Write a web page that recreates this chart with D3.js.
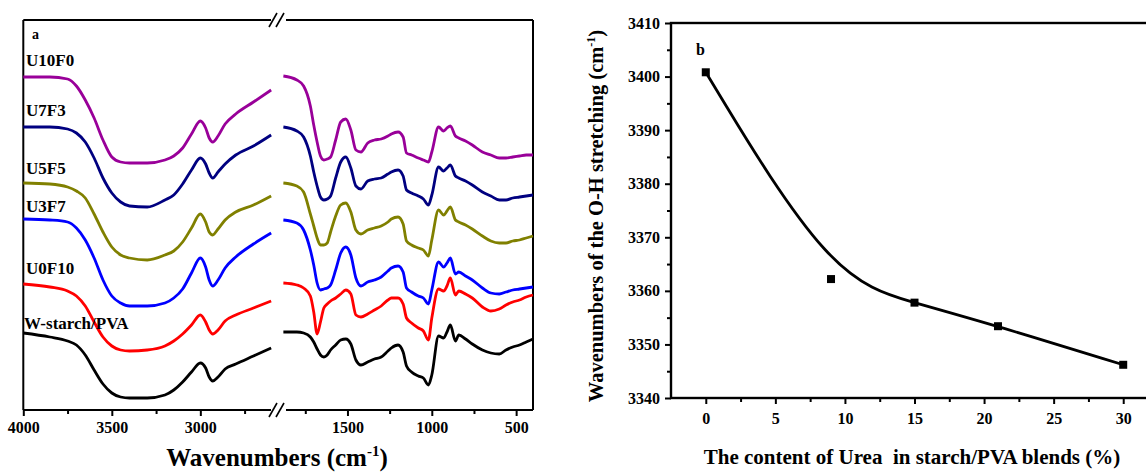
<!DOCTYPE html>
<html>
<head>
<meta charset="utf-8">
<script src="https://cdn.jsdelivr.net/npm/d3@7"></script>
<style>
  body { margin: 0; background: #fff; }
  svg { display: block; }
  text { font-family: "Liberation Serif", "Times New Roman", serif; font-weight: bold; fill: #000; }
</style>
</head>
<body>
<svg id="chart" width="1146" height="472"></svg>
<script>
// ---------- Panel a: FTIR spectra (offset transmittance, a.u.) ----------
const wnHigh = [4000, 3850, 3750, 3700, 3650, 3600, 3550, 3500, 3450, 3400, 3300, 3200,
                3150, 3100, 3050, 3000, 2970, 2950, 2930, 2900, 2860, 2800, 2700, 2600];
const wnLow = [1880, 1800, 1760, 1720, 1700, 1680, 1660, 1640, 1620, 1600, 1570, 1540,
               1510, 1480, 1450, 1420, 1380, 1340, 1300, 1260, 1240, 1200, 1170, 1150,
               1120, 1080, 1050, 1020, 1000, 960, 930, 910, 890, 860, 840, 800, 760,
               700, 650, 600, 560, 520, 480, 440, 400];

const sampleNames = ["U10F0", "U7F3", "U5F5", "U3F7", "U0F10", "W-starch/PVA"];

const u10f0High = [333, 333, 331, 324, 310, 292, 270, 253, 248, 247, 247, 250, 254, 262, 276, 289, 282, 272, 268, 274, 286, 296, 308, 320];
const u10f0Low  = [334, 330, 324, 304, 285, 268, 254, 250, 251, 253, 270, 288, 291, 280, 260, 258, 267, 270, 271, 274, 276, 278, 273, 257, 255, 252, 250, 248, 258, 283, 279, 282, 284, 274, 272, 269, 265, 258, 255, 252, 252, 253, 254, 255, 255];

const u7f3High = [283, 283, 281, 277, 268, 252, 232, 217, 208, 204, 203, 210, 215, 226, 240, 252, 246, 237, 232, 238, 246, 255, 264, 275];
const u7f3Low  = [283, 279, 273, 254, 238, 224, 213, 210, 211, 214, 232, 248, 253, 242, 224, 221, 229, 231, 232, 236, 238, 240, 234, 220, 217, 214, 211, 205, 215, 243, 239, 242, 245, 234, 232, 229, 225, 218, 214, 210, 210, 212, 213, 214, 215];

const u5f5High = [227, 226, 223, 219, 212, 196, 178, 163, 155, 152, 150, 155, 159, 168, 182, 196, 188, 178, 175, 181, 190, 198, 205, 214];
const u5f5Low  = [227, 224, 218, 196, 184, 172, 165, 165, 167, 178, 194, 205, 207, 198, 180, 176, 180, 182, 184, 188, 191, 193, 186, 169, 165, 162, 160, 154, 170, 200, 195, 199, 203, 190, 188, 185, 181, 174, 169, 167, 167, 169, 170, 172, 174];

const u3f7High = [191, 190, 188, 182, 170, 152, 130, 114, 107, 104, 104, 107, 112, 121, 137, 152, 143, 130, 124, 130, 142, 153, 166, 177];
const u3f7Low  = [190, 187, 180, 160, 145, 127, 120, 121, 122, 125, 140, 157, 163, 155, 132, 124, 128, 130, 133, 139, 142, 144, 138, 122, 118, 114, 112, 106, 120, 148, 143, 147, 152, 136, 138, 134, 130, 122, 117, 116, 118, 120, 121, 122, 123];

const u0f10High = [126, 123, 119, 114, 104, 88, 73, 64, 60, 59, 60, 64, 69, 76, 85, 95, 88, 80, 76, 80, 89, 95, 102, 109];
const u0f10Low  = [127, 125, 122, 114, 98, 76, 88, 102, 106, 109, 112, 116, 120, 116, 95, 93, 96, 100, 104, 110, 112, 112, 106, 92, 87, 82, 79, 70, 92, 121, 119, 124, 132, 115, 119, 116, 112, 103, 99, 101, 105, 108, 110, 113, 115];

const wStarchHigh = [77, 73, 69, 65, 55, 40, 26, 17, 13, 12, 12, 15, 20, 28, 38, 47, 42, 33, 29, 33, 41, 46, 54, 62];
const wStarchLow  = [78, 78, 77, 73, 68, 61, 55, 53, 55, 60, 65, 70, 71, 66, 50, 45, 48, 51, 53, 59, 62, 65, 58, 44, 38, 34, 32, 25, 35, 74, 72, 78, 85, 69, 75, 71, 66, 60, 57, 56, 60, 63, 65, 68, 71];

const majorTicksHigh = [4000, 3500, 3000];
const minorTicksHigh = [3750, 3250, 2750];
const majorTicksLow = [1500, 1000, 500];
const minorTicksLow = [1750, 1250, 750];

// ---------- Panel b: O-H stretching vs urea content ----------
const ureaContent = [0, 9, 15, 21, 30];
const ohStretching = [3400.8, 3362.2, 3357.8, 3353.4, 3346.2];
const majorTicksUrea = [0, 5, 10, 15, 20, 25, 30];
const minorTicksUrea = [2.5, 7.5, 12.5, 17.5, 22.5, 27.5];
const majorTicksOH = [3340, 3350, 3360, 3370, 3380, 3390, 3400, 3410];
const minorTicksOH = [3345, 3355, 3365, 3375, 3385, 3395, 3405];

// ---------- drawing ----------
const svg = d3.select("#chart");
const spectra = [
  { name: sampleNames[0], high: u10f0High, low: u10f0Low },
  { name: sampleNames[1], high: u7f3High, low: u7f3Low },
  { name: sampleNames[2], high: u5f5High, low: u5f5Low },
  { name: sampleNames[3], high: u3f7High, low: u3f7Low },
  { name: sampleNames[4], high: u0f10High, low: u0f10Low },
  { name: sampleNames[5], high: wStarchHigh, low: wStarchLow }
];
const lineColors = ["#990099", "#000080", "#808000", "#0000ff", "#ff0000", "#000000"];
const labelLift = [11, 11, 9, 7, 10, 4];

const A = { left: 23.3, top: 20, right: 533, bottom: 410, split: 280 };
const xHigh = d3.scaleLinear().domain([4000, 2550]).range([A.left, A.split]);
const xLow = d3.scaleLinear().domain([1900, 400]).range([A.split, A.right]);
const yA = d3.scaleLinear().domain([0, 390]).range([A.bottom, A.top]);

const gA = svg.append("g");

// frame with axis breaks
const frame = gA.append("g").attr("stroke", "#000").attr("stroke-width", 2).attr("fill", "none");
frame.append("line").attr("x1", A.left).attr("x2", A.left).attr("y1", A.top).attr("y2", A.bottom);
frame.append("line").attr("x1", A.right).attr("x2", A.right).attr("y1", A.top).attr("y2", A.bottom);
[A.top, A.bottom].forEach(yy => {
  frame.append("line").attr("x1", A.left).attr("x2", 271).attr("y1", yy).attr("y2", yy);
  frame.append("line").attr("x1", 286).attr("x2", A.right).attr("y1", yy).attr("y2", yy);
  [273, 280].forEach(cx => {
    frame.append("line").attr("x1", cx - 4).attr("y1", yy + 7).attr("x2", cx + 4).attr("y2", yy - 7)
      .attr("stroke-width", 1.6);
  });
});

// bottom axes of the two segments
function segmentAxis(scale, major, minor) {
  const g = gA.append("g").attr("transform", `translate(0,${A.bottom})`);
  g.call(d3.axisBottom(scale).tickValues(major).tickSize(6).tickPadding(6).tickFormat(d3.format("d")));
  g.call(s => s.select(".domain").remove());
  g.selectAll(".tick line").attr("stroke", "#000").attr("stroke-width", 2);
  g.selectAll(".tick text").attr("font-size", 16).attr("font-family", null);
  const gm = gA.append("g").attr("transform", `translate(0,${A.bottom})`);
  gm.call(d3.axisBottom(scale).tickValues(minor).tickSize(4).tickFormat(""));
  gm.call(s => s.select(".domain").remove());
  gm.selectAll(".tick line").attr("stroke", "#000").attr("stroke-width", 2);
}
segmentAxis(xHigh, majorTicksHigh, minorTicksHigh);
segmentAxis(xLow, majorTicksLow, minorTicksLow);

// spectra
const lineHigh = d3.line().x((d, i) => xHigh(wnHigh[i])).y(d => yA(d)).curve(d3.curveMonotoneX);
const lineLow = d3.line().x((d, i) => xLow(wnLow[i])).y(d => yA(d)).curve(d3.curveMonotoneX);
spectra.forEach((s, k) => {
  gA.append("path").attr("d", lineHigh(s.high)).attr("fill", "none")
    .attr("stroke", lineColors[k]).attr("stroke-width", 2.8).attr("stroke-linejoin", "round");
  gA.append("path").attr("d", lineLow(s.low)).attr("fill", "none")
    .attr("stroke", lineColors[k]).attr("stroke-width", 2.8).attr("stroke-linejoin", "round");
  gA.append("text").attr("x", k === 5 ? 24 : 26).attr("y", yA(s.high[0]) - labelLift[k])
    .attr("font-size", 17).text(s.name);
});

gA.append("text").attr("x", 32).attr("y", 39).attr("font-size", 14).text("a");

const titleA = gA.append("text").attr("x", 277).attr("y", 466).attr("text-anchor", "middle").attr("font-size", 25);
titleA.append("tspan").text("Wavenumbers (cm");
titleA.append("tspan").attr("dy", -10).attr("font-size", 15).text("-1");
titleA.append("tspan").attr("dy", 10).text(")");

// ---------- Panel b ----------
const B = { left: 671, top: 23, bottom: 398 };
const xB = d3.scaleLinear().domain([-2.5, 32.5]).range([B.left, 1158]);
const yB = d3.scaleLinear().domain([3340, 3410]).range([B.bottom, B.top]);
const gB = svg.append("g");

gB.append("rect").attr("x", B.left).attr("y", B.top).attr("width", xB(32.5) - B.left).attr("height", B.bottom - B.top)
  .attr("fill", "none").attr("stroke", "#000").attr("stroke-width", 2.4);

function axisB(axisFn, scale, major, minor, translate) {
  const g = gB.append("g").attr("transform", translate);
  g.call(axisFn(scale).tickValues(major).tickSize(6).tickPadding(5).tickFormat(d3.format("d")));
  g.call(s => s.select(".domain").remove());
  g.selectAll(".tick line").attr("stroke", "#000").attr("stroke-width", 2);
  g.selectAll(".tick text").attr("font-size", 16).attr("font-family", null);
  const gm = gB.append("g").attr("transform", translate);
  gm.call(axisFn(scale).tickValues(minor).tickSize(4).tickFormat(""));
  gm.call(s => s.select(".domain").remove());
  gm.selectAll(".tick line").attr("stroke", "#000").attr("stroke-width", 2);
  return g;
}
const ax = axisB(d3.axisBottom, xB, majorTicksUrea, minorTicksUrea, `translate(0,${B.bottom})`);
ax.selectAll(".tick text").attr("dy", "0.95em");
axisB(d3.axisLeft, yB, majorTicksOH, minorTicksOH, `translate(${B.left},0)`);

const pts = ureaContent.map((u, i) => [xB(u), yB(ohStretching[i])]);
gB.append("path").attr("d", d3.line().curve(d3.curveBasis)(pts)).attr("fill", "none")
  .attr("stroke", "#000").attr("stroke-width", 2.8);
gB.selectAll("rect.pt").data(ureaContent).join("rect").attr("class", "pt")
  .attr("x", (d, i) => xB(d) - 4).attr("y", (d, i) => yB(ohStretching[i]) - 4)
  .attr("width", 8).attr("height", 8).attr("fill", "#000");

gB.append("text").attr("x", 696).attr("y", 55).attr("font-size", 16).text("b");

gB.append("text").attr("x", 912).attr("y", 464).attr("text-anchor", "middle").attr("font-size", 21)
  .style("white-space", "pre").text("The content of Urea  in starch/PVA blends (%)");

const titleB = gB.append("text").attr("transform", "translate(603,216) rotate(-90)")
  .attr("text-anchor", "middle").attr("font-size", 20.5);
titleB.append("tspan").text("Wavenumbers of the O-H stretching (cm");
titleB.append("tspan").attr("dy", -8).attr("font-size", 12).text("-1");
titleB.append("tspan").attr("dy", 8).text(")");
</script>
</body>
</html>
